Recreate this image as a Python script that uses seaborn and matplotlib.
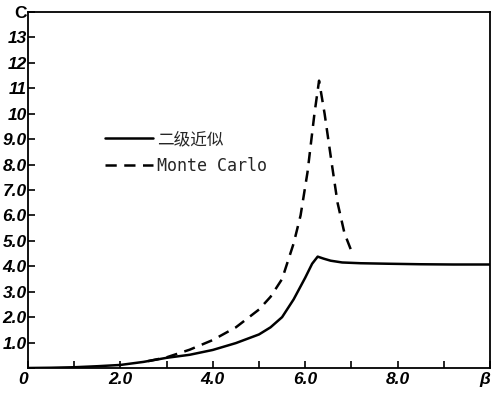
import matplotlib
matplotlib.use("Agg")
import matplotlib.pyplot as plt
import seaborn as sns
import pandas as pd
import numpy as np

# datos
beta_2nd = [0, 0.5, 1.0, 1.5, 2.0, 2.5, 3.0, 3.5, 4.0, 4.5, 5.0, 5.25, 5.5,
            5.75, 6.0, 6.15, 6.27, 6.4, 6.55, 6.8, 7.2, 7.8, 8.5, 9.2, 10.0]
c_2nd = [0.0, 0.01, 0.03, 0.07, 0.12, 0.24, 0.4, 0.52, 0.71, 0.98, 1.32, 1.6, 2.0,
         2.7, 3.55, 4.1, 4.38, 4.3, 4.22, 4.15, 4.12, 4.1, 4.08, 4.07, 4.07]

beta_mc = [2.6, 3.0, 3.5, 4.0, 4.5, 5.0, 5.25, 5.5, 5.75, 5.9, 6.05, 6.2, 6.3,
           6.42, 6.57, 6.7, 6.85, 7.0]
c_mc = [0.27, 0.42, 0.72, 1.1, 1.6, 2.3, 2.8, 3.5, 4.9, 6.0, 7.7, 10.0, 11.3,
        10.0, 8.1, 6.5, 5.3, 4.6]

x_ticks = list(range(0, 11))
x_labels = ["0", "", "2.0", "", "4.0", "", "6.0", "", "8.0", "", "β"]
y_ticks = list(range(0, 15))
y_labels = ["", "1.0", "2.0", "3.0", "4.0", "5.0", "6.0", "7.0", "8.0", "9.0",
            "10", "11", "12", "13", "C"]

labels = ["二级近似", "Monte Carlo"]

sns.set_style("ticks")
plt.rcParams['font.family'] = ['Liberation Sans', 'DejaVu Sans']

df_2nd = pd.DataFrame({"beta": beta_2nd, "C": c_2nd})
df_mc = pd.DataFrame({"beta": beta_mc, "C": c_mc})

fig = plt.figure(figsize=(4.92, 3.96), dpi=100)
ax = fig.add_axes([28 / 492, 28 / 396, 462 / 492, 356 / 396])

sns.lineplot(data=df_2nd, x="beta", y="C", ax=ax, color="black", lw=1.8,
             label=labels[0])
sns.lineplot(data=df_mc, x="beta", y="C", ax=ax, color="black", lw=1.8,
             linestyle=(0, (4.5, 3)), label=labels[1])

ax.set_xlim(0, 10)
ax.set_ylim(0, 14)
ax.set_xticks(x_ticks)
ax.set_xticklabels(x_labels)
ax.set_yticks(y_ticks)
ax.set_yticklabels(y_labels)
ax.set_xlabel("")
ax.set_ylabel("")

for s in ax.spines.values():
    s.set_linewidth(1.3)
    s.set_color("black")
ax.tick_params(direction="in", length=5, width=1.2, colors="black",
               labelsize=12.5, pad=1)
ax.tick_params(axis="x", pad=3)
for t in ax.get_xticklabels() + ax.get_yticklabels():
    t.set_style("italic")
    t.set_fontweight("bold")
ax.get_yticklabels()[-1].set_style("normal")
xl = ax.get_xticklabels()
xl[0].set_horizontalalignment("right")
xl[-1].set_horizontalalignment("right")

leg = ax.legend(loc="upper left", bbox_to_anchor=(77 / 462, 238 / 356),
                frameon=False, handlelength=2.9, handletextpad=0.2,
                labelspacing=0.55, borderpad=0, borderaxespad=0,
                prop={"family": ["DejaVu Sans Mono", "Noto Sans CJK SC"],
                      "size": 12})
for ln in leg.get_lines():
    ln.set_linewidth(1.8)

fig.savefig("out.png", dpi=100)
